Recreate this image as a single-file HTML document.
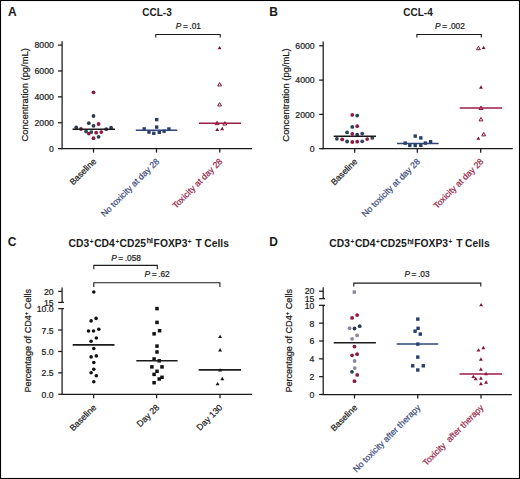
<!DOCTYPE html>
<html><head><meta charset="utf-8"><style>
html,body{margin:0;padding:0;background:#fff;}
body{width:520px;height:479px;overflow:hidden;}
svg{display:block;font-family:"Liberation Sans",sans-serif;}
</style></head><body>
<svg width="520" height="479" viewBox="0 0 520 479">
<rect x="0" y="0" width="520" height="479" fill="#fff"/>
<rect x="0.5" y="0.5" width="519" height="478" fill="none" stroke="#000" stroke-width="1.1"/>
<text x="8" y="16.3" font-size="12" text-anchor="start" font-weight="bold" fill="#1a1a1a" >A</text>
<text x="157" y="16.0" font-size="10" text-anchor="middle" font-weight="bold" fill="#1a1a1a" >CCL-3</text>
<text x="175.8" y="29.3" font-size="8.3" text-anchor="start" font-weight="normal" fill="#1a1a1a" stroke="#1a1a1a" stroke-width="0.22" word-spacing="-0.7"><tspan font-style="italic">P</tspan> = .01</text>
<path d="M155.8,37.6 V34.5 H220.2 V37.6" fill="none" stroke="#1a1a1a" stroke-width="1.1"/>
<line x1="62.1" y1="41.2" x2="62.1" y2="149.15" stroke="#1a1a1a" stroke-width="1.25"/>
<line x1="61.550000000000004" y1="148.6" x2="252" y2="148.6" stroke="#1a1a1a" stroke-width="1.25"/>
<line x1="58" y1="148.6" x2="62.1" y2="148.6" stroke="#1a1a1a" stroke-width="1.25"/>
<text x="53.8" y="151.9" font-size="8.7" text-anchor="end" font-weight="normal" fill="#1a1a1a" stroke="#1a1a1a" stroke-width="0.22" >0</text>
<line x1="58" y1="122.725" x2="62.1" y2="122.725" stroke="#1a1a1a" stroke-width="1.25"/>
<text x="53.8" y="126.02499999999999" font-size="8.7" text-anchor="end" font-weight="normal" fill="#1a1a1a" stroke="#1a1a1a" stroke-width="0.22" >2000</text>
<line x1="58" y1="96.85" x2="62.1" y2="96.85" stroke="#1a1a1a" stroke-width="1.25"/>
<text x="53.8" y="100.14999999999999" font-size="8.7" text-anchor="end" font-weight="normal" fill="#1a1a1a" stroke="#1a1a1a" stroke-width="0.22" >4000</text>
<line x1="58" y1="70.975" x2="62.1" y2="70.975" stroke="#1a1a1a" stroke-width="1.25"/>
<text x="53.8" y="74.27499999999999" font-size="8.7" text-anchor="end" font-weight="normal" fill="#1a1a1a" stroke="#1a1a1a" stroke-width="0.22" >6000</text>
<line x1="58" y1="45.099999999999994" x2="62.1" y2="45.099999999999994" stroke="#1a1a1a" stroke-width="1.25"/>
<text x="53.8" y="48.39999999999999" font-size="8.7" text-anchor="end" font-weight="normal" fill="#1a1a1a" stroke="#1a1a1a" stroke-width="0.22" >8000</text>
<line x1="93.5" y1="148.6" x2="93.5" y2="152.6" stroke="#1a1a1a" stroke-width="1.25"/>
<line x1="156.5" y1="148.6" x2="156.5" y2="152.6" stroke="#1a1a1a" stroke-width="1.25"/>
<line x1="219.8" y1="148.6" x2="219.8" y2="152.6" stroke="#1a1a1a" stroke-width="1.25"/>
<text transform="translate(27.9,94.8) rotate(-90)" font-size="9.4" text-anchor="middle" fill="#1a1a1a" stroke="#1a1a1a" stroke-width="0.22">Concentration (pg/mL)</text>
<text transform="translate(96.8,162.0) rotate(-45)" font-size="8.7" text-anchor="end" fill="#1a1a1a" stroke="#1a1a1a" stroke-width="0.22" xml:space="preserve">Baseline</text>
<text transform="translate(159.8,162.0) rotate(-45)" font-size="8.7" text-anchor="end" fill="#3c4a7c" stroke="#3c4a7c" stroke-width="0.22" xml:space="preserve">No toxicity at day 28</text>
<text transform="translate(223.0,162.0) rotate(-45)" font-size="8.7" text-anchor="end" fill="#962448" stroke="#962448" stroke-width="0.22" xml:space="preserve">Toxicity at day 28</text>
<circle cx="93.5" cy="92.3" r="1.9" fill="#8f1a41"/>
<circle cx="93.5" cy="116" r="1.9" fill="#2b3a50"/>
<circle cx="88.8" cy="123.2" r="1.9" fill="#2b3a50"/>
<circle cx="98.6" cy="124" r="1.9" fill="#8f1a41"/>
<circle cx="93.5" cy="125.8" r="1.9" fill="#2b3a50"/>
<circle cx="76.2" cy="127.4" r="1.9" fill="#2b3a50"/>
<circle cx="111.1" cy="127.7" r="1.9" fill="#2b3a50"/>
<circle cx="81" cy="129" r="1.9" fill="#8f1a41"/>
<circle cx="106.2" cy="129.2" r="1.9" fill="#2b3a50"/>
<circle cx="86.1" cy="131.4" r="1.9" fill="#25454f"/>
<circle cx="91.3" cy="132.1" r="1.9" fill="#25454f"/>
<circle cx="88.8" cy="133.6" r="1.9" fill="#8f1a41"/>
<circle cx="96.2" cy="132.7" r="1.9" fill="#8f1a41"/>
<circle cx="101.3" cy="132.1" r="1.9" fill="#8f1a41"/>
<circle cx="98.6" cy="136.8" r="1.9" fill="#25454f"/>
<circle cx="93.5" cy="138.2" r="1.9" fill="#8f1a41"/>
<line x1="72.5" y1="129.2" x2="115" y2="129.2" stroke="#1a1a1a" stroke-width="1.6"/>
<rect x="155.00" y="117.90" width="3.4" height="3.4" fill="#263d6a"/>
<rect x="155.00" y="125.40" width="3.4" height="3.4" fill="#263d6a"/>
<rect x="142.50" y="127.20" width="3.4" height="3.4" fill="#263d6a"/>
<rect x="147.30" y="130.40" width="3.4" height="3.4" fill="#263d6a"/>
<rect x="152.10" y="131.60" width="3.4" height="3.4" fill="#263d6a"/>
<rect x="157.60" y="130.60" width="3.4" height="3.4" fill="#263d6a"/>
<rect x="162.40" y="129.50" width="3.4" height="3.4" fill="#263d6a"/>
<rect x="167.20" y="127.30" width="3.4" height="3.4" fill="#263d6a"/>
<line x1="135.8" y1="130.2" x2="177.3" y2="130.2" stroke="#2f4675" stroke-width="1.5"/>
<polygon points="219.60,45.96 221.55,49.36 217.65,49.36" fill="#7f1437"/>
<polygon points="219.60,82.56 221.55,85.96 217.65,85.96" fill="#fff" stroke="#7f1437" stroke-width="1.0"/>
<polygon points="219.60,102.56 221.55,105.96 217.65,105.96" fill="#fff" stroke="#7f1437" stroke-width="1.0"/>
<polygon points="217.10,121.26 219.05,124.66 215.15,124.66" fill="#fff" stroke="#7f1437" stroke-width="1.0"/>
<polygon points="224.80,121.66 226.75,125.06 222.85,125.06" fill="#fff" stroke="#7f1437" stroke-width="1.0"/>
<polygon points="217.20,127.66 219.15,131.06 215.25,131.06" fill="#7f1437"/>
<polygon points="222.20,126.86 224.15,130.26 220.25,130.26" fill="#7f1437"/>
<line x1="199" y1="123.3" x2="241" y2="123.3" stroke="#9e1c44" stroke-width="1.5"/>
<text x="269.3" y="16.3" font-size="12" text-anchor="start" font-weight="bold" fill="#1a1a1a" >B</text>
<text x="418" y="16.0" font-size="10" text-anchor="middle" font-weight="bold" fill="#1a1a1a" >CCL-4</text>
<text x="435.09999999999997" y="29.3" font-size="8.3" text-anchor="start" font-weight="normal" fill="#1a1a1a" stroke="#1a1a1a" stroke-width="0.22" word-spacing="-0.7"><tspan font-style="italic">P</tspan> = .002</text>
<path d="M416.9,37.6 V34.5 H481.3 V37.6" fill="none" stroke="#1a1a1a" stroke-width="1.1"/>
<line x1="323.2" y1="41.6" x2="323.2" y2="149.25" stroke="#1a1a1a" stroke-width="1.25"/>
<line x1="322.65" y1="148.7" x2="512.8" y2="148.7" stroke="#1a1a1a" stroke-width="1.25"/>
<line x1="319.2" y1="148.7" x2="323.2" y2="148.7" stroke="#1a1a1a" stroke-width="1.25"/>
<text x="314.7" y="151.89999999999998" font-size="8.7" text-anchor="end" font-weight="normal" fill="#1a1a1a" stroke="#1a1a1a" stroke-width="0.22" >0</text>
<line x1="319.2" y1="114.39999999999999" x2="323.2" y2="114.39999999999999" stroke="#1a1a1a" stroke-width="1.25"/>
<text x="314.7" y="117.6" font-size="8.7" text-anchor="end" font-weight="normal" fill="#1a1a1a" stroke="#1a1a1a" stroke-width="0.22" >2000</text>
<line x1="319.2" y1="80.1" x2="323.2" y2="80.1" stroke="#1a1a1a" stroke-width="1.25"/>
<text x="314.7" y="83.3" font-size="8.7" text-anchor="end" font-weight="normal" fill="#1a1a1a" stroke="#1a1a1a" stroke-width="0.22" >4000</text>
<line x1="319.2" y1="45.8" x2="323.2" y2="45.8" stroke="#1a1a1a" stroke-width="1.25"/>
<text x="314.7" y="49.0" font-size="8.7" text-anchor="end" font-weight="normal" fill="#1a1a1a" stroke="#1a1a1a" stroke-width="0.22" >6000</text>
<line x1="354.7" y1="148.7" x2="354.7" y2="152.7" stroke="#1a1a1a" stroke-width="1.25"/>
<line x1="417.3" y1="148.7" x2="417.3" y2="152.7" stroke="#1a1a1a" stroke-width="1.25"/>
<line x1="480.7" y1="148.7" x2="480.7" y2="152.7" stroke="#1a1a1a" stroke-width="1.25"/>
<text transform="translate(288.7,95.0) rotate(-90)" font-size="9.4" text-anchor="middle" fill="#1a1a1a" stroke="#1a1a1a" stroke-width="0.22">Concentration (pg/mL)</text>
<text transform="translate(358.0,162.1) rotate(-45)" font-size="8.7" text-anchor="end" fill="#1a1a1a" stroke="#1a1a1a" stroke-width="0.22" xml:space="preserve">Baseline</text>
<text transform="translate(420.6,162.1) rotate(-45)" font-size="8.7" text-anchor="end" fill="#3c4a7c" stroke="#3c4a7c" stroke-width="0.22" xml:space="preserve">No toxicity at day 28</text>
<text transform="translate(484.0,162.1) rotate(-45)" font-size="8.7" text-anchor="end" fill="#962448" stroke="#962448" stroke-width="0.22" xml:space="preserve">Toxicity at day 28</text>
<circle cx="352.3" cy="114.9" r="1.9" fill="#8f1a41"/>
<circle cx="357.2" cy="115.6" r="1.9" fill="#25454f"/>
<circle cx="352.3" cy="126.9" r="1.9" fill="#25454f"/>
<circle cx="357.2" cy="126.2" r="1.9" fill="#8f1a41"/>
<circle cx="347.1" cy="132.4" r="1.9" fill="#25454f"/>
<circle cx="352.3" cy="133.8" r="1.9" fill="#8f1a41"/>
<circle cx="357.2" cy="134.6" r="1.9" fill="#2b3a50"/>
<circle cx="362.2" cy="133.6" r="1.9" fill="#34406a"/>
<circle cx="336.9" cy="138.8" r="1.9" fill="#25454f"/>
<circle cx="342.2" cy="139.4" r="1.9" fill="#8f1a41"/>
<circle cx="347.1" cy="141.5" r="1.9" fill="#25454f"/>
<circle cx="352.3" cy="142" r="1.9" fill="#8f1a41"/>
<circle cx="357.2" cy="141.7" r="1.9" fill="#8f1a41"/>
<circle cx="362.2" cy="141.3" r="1.9" fill="#34406a"/>
<circle cx="367.2" cy="139.1" r="1.9" fill="#8f1a41"/>
<circle cx="372.3" cy="137.9" r="1.9" fill="#3a404c"/>
<line x1="333.7" y1="136.3" x2="376" y2="136.3" stroke="#1a1a1a" stroke-width="1.6"/>
<rect x="413.50" y="134.40" width="3.4" height="3.4" fill="#263d6a"/>
<rect x="419.10" y="136.20" width="3.4" height="3.4" fill="#263d6a"/>
<rect x="403.50" y="141.40" width="3.4" height="3.4" fill="#263d6a"/>
<rect x="408.10" y="143.70" width="3.4" height="3.4" fill="#263d6a"/>
<rect x="413.50" y="143.80" width="3.4" height="3.4" fill="#263d6a"/>
<rect x="419.10" y="143.70" width="3.4" height="3.4" fill="#263d6a"/>
<rect x="423.70" y="141.40" width="3.4" height="3.4" fill="#263d6a"/>
<rect x="428.90" y="140.00" width="3.4" height="3.4" fill="#263d6a"/>
<line x1="397.1" y1="143.6" x2="438.6" y2="143.6" stroke="#2f4675" stroke-width="1.5"/>
<polygon points="478.40,46.36 480.35,49.76 476.45,49.76" fill="#fff" stroke="#7f1437" stroke-width="1.0"/>
<polygon points="483.60,45.66 485.55,49.06 481.65,49.06" fill="#7f1437"/>
<polygon points="481.00,85.26 482.95,88.66 479.05,88.66" fill="#7f1437"/>
<polygon points="481.00,106.06 482.95,109.46 479.05,109.46" fill="#fff" stroke="#7f1437" stroke-width="1.0"/>
<polygon points="481.00,117.46 482.95,120.86 479.05,120.86" fill="#fff" stroke="#7f1437" stroke-width="1.0"/>
<polygon points="483.70,132.46 485.65,135.86 481.75,135.86" fill="#fff" stroke="#7f1437" stroke-width="1.0"/>
<polygon points="478.40,136.46 480.35,139.86 476.45,139.86" fill="#7f1437"/>
<line x1="459.7" y1="108.1" x2="502.1" y2="108.1" stroke="#9e1c44" stroke-width="1.5"/>
<text x="7.7" y="246.3" font-size="12" text-anchor="start" font-weight="bold" fill="#1a1a1a" >C</text>
<text font-weight="bold" fill="#1a1a1a"><tspan x="68.60" y="246.80" font-size="10.3">CD3</tspan><tspan x="89.80" y="244.10" font-size="6.4">+</tspan><tspan x="94.20" y="246.80" font-size="10.3">CD4</tspan><tspan x="115.40" y="244.10" font-size="6.4">+</tspan><tspan x="119.60" y="246.80" font-size="10.3">CD25</tspan><tspan x="146.70" y="243.30" font-size="7.9" font-weight="normal" stroke="#1a1a1a" stroke-width="0.35">hi</tspan><tspan x="153.60" y="246.80" font-size="10.3">FOXP3</tspan><tspan x="187.80" y="244.10" font-size="6.4">+</tspan><tspan x="195.60" y="246.80" font-size="10.3">T</tspan><tspan x="204.30" y="246.80" font-size="10.3">Cells</tspan></text>
<text x="111.2" y="260.5" font-size="8.3" text-anchor="start" font-weight="normal" fill="#1a1a1a" stroke="#1a1a1a" stroke-width="0.22" word-spacing="-0.7"><tspan font-style="italic">P</tspan> = .058</text>
<path d="M93.8,269.2 V265.4 H157.3 V269.2" fill="none" stroke="#1a1a1a" stroke-width="1.1"/>
<text x="144.6" y="277.4" font-size="8.3" text-anchor="start" font-weight="normal" fill="#1a1a1a" stroke="#1a1a1a" stroke-width="0.22" word-spacing="-0.7"><tspan font-style="italic">P</tspan> = .62</text>
<path d="M93.8,286.9 V282.8 H219.9 V286.9" fill="none" stroke="#1a1a1a" stroke-width="1.1"/>
<line x1="62.1" y1="287.4" x2="62.1" y2="302.4" stroke="#1a1a1a" stroke-width="1.25"/>
<line x1="62.1" y1="308.6" x2="62.1" y2="394.85" stroke="#1a1a1a" stroke-width="1.25"/>
<line x1="61.550000000000004" y1="394.3" x2="252" y2="394.3" stroke="#1a1a1a" stroke-width="1.25"/>
<line x1="58.2" y1="291.4" x2="62.1" y2="291.4" stroke="#1a1a1a" stroke-width="1.25"/>
<line x1="58.2" y1="302.4" x2="63.9" y2="302.4" stroke="#1a1a1a" stroke-width="1.25"/>
<line x1="58.2" y1="308.6" x2="63.9" y2="308.6" stroke="#1a1a1a" stroke-width="1.25"/>
<text x="53.6" y="294.79999999999995" font-size="8.7" text-anchor="end" font-weight="normal" fill="#1a1a1a" stroke="#1a1a1a" stroke-width="0.22" >20</text>
<text x="53.6" y="305.79999999999995" font-size="8.7" text-anchor="end" font-weight="normal" fill="#1a1a1a" stroke="#1a1a1a" stroke-width="0.22" >15</text>
<text x="53.7" y="312.20000000000005" font-size="8.7" text-anchor="end" font-weight="normal" fill="#1a1a1a" stroke="#1a1a1a" stroke-width="0.22" >10.0</text>
<line x1="58.2" y1="330.02500000000003" x2="62.1" y2="330.02500000000003" stroke="#1a1a1a" stroke-width="1.25"/>
<text x="53.7" y="333.62500000000006" font-size="8.7" text-anchor="end" font-weight="normal" fill="#1a1a1a" stroke="#1a1a1a" stroke-width="0.22" >7.5</text>
<line x1="58.2" y1="351.45000000000005" x2="62.1" y2="351.45000000000005" stroke="#1a1a1a" stroke-width="1.25"/>
<text x="53.7" y="355.05000000000007" font-size="8.7" text-anchor="end" font-weight="normal" fill="#1a1a1a" stroke="#1a1a1a" stroke-width="0.22" >5.0</text>
<line x1="58.2" y1="372.875" x2="62.1" y2="372.875" stroke="#1a1a1a" stroke-width="1.25"/>
<text x="53.7" y="376.475" font-size="8.7" text-anchor="end" font-weight="normal" fill="#1a1a1a" stroke="#1a1a1a" stroke-width="0.22" >2.5</text>
<line x1="58.2" y1="394.3" x2="62.1" y2="394.3" stroke="#1a1a1a" stroke-width="1.25"/>
<text x="53.7" y="397.90000000000003" font-size="8.7" text-anchor="end" font-weight="normal" fill="#1a1a1a" stroke="#1a1a1a" stroke-width="0.22" >0.0</text>
<line x1="93.6" y1="394.3" x2="93.6" y2="398.3" stroke="#1a1a1a" stroke-width="1.25"/>
<line x1="156.6" y1="394.3" x2="156.6" y2="398.3" stroke="#1a1a1a" stroke-width="1.25"/>
<line x1="220.0" y1="394.3" x2="220.0" y2="398.3" stroke="#1a1a1a" stroke-width="1.25"/>
<text transform="translate(31.0,340.7) rotate(-90)" font-size="9.1" text-anchor="middle" fill="#1a1a1a" stroke="#1a1a1a" stroke-width="0.22">Percentage of CD4<tspan font-size="6" dy="-3">+</tspan><tspan dy="3"> Cells</tspan></text>
<text transform="translate(96.8,408.0) rotate(-45)" font-size="8.7" text-anchor="end" fill="#1a1a1a" stroke="#1a1a1a" stroke-width="0.22" xml:space="preserve">Baseline</text>
<text transform="translate(159.8,408.0) rotate(-45)" font-size="8.7" text-anchor="end" fill="#1a1a1a" stroke="#1a1a1a" stroke-width="0.22" xml:space="preserve">Day 28</text>
<text transform="translate(223.0,408.0) rotate(-45)" font-size="8.7" text-anchor="end" fill="#1a1a1a" stroke="#1a1a1a" stroke-width="0.22" xml:space="preserve">Day 130</text>
<circle cx="93.8" cy="292" r="1.8" fill="#111"/>
<circle cx="96.1" cy="318.4" r="1.8" fill="#111"/>
<circle cx="91.1" cy="320.9" r="1.8" fill="#111"/>
<circle cx="98.8" cy="329.2" r="1.8" fill="#111"/>
<circle cx="88.5" cy="331" r="1.8" fill="#111"/>
<circle cx="93.5" cy="331" r="1.8" fill="#111"/>
<circle cx="96.3" cy="338" r="1.8" fill="#111"/>
<circle cx="91.1" cy="341.3" r="1.8" fill="#111"/>
<circle cx="93.8" cy="348.5" r="1.8" fill="#111"/>
<circle cx="91.1" cy="356.9" r="1.8" fill="#111"/>
<circle cx="96.3" cy="355.9" r="1.8" fill="#111"/>
<circle cx="93.8" cy="362.5" r="1.8" fill="#111"/>
<circle cx="93.8" cy="369.2" r="1.8" fill="#111"/>
<circle cx="91.1" cy="372.8" r="1.8" fill="#111"/>
<circle cx="96.3" cy="375.7" r="1.8" fill="#111"/>
<circle cx="93.8" cy="381.7" r="1.8" fill="#111"/>
<line x1="72.7" y1="344.9" x2="114.5" y2="344.9" stroke="#1a1a1a" stroke-width="1.6"/>
<rect x="155.25" y="306.85" width="3.5" height="3.5" fill="#111"/>
<rect x="155.25" y="320.65" width="3.5" height="3.5" fill="#111"/>
<rect x="157.85" y="328.95" width="3.5" height="3.5" fill="#111"/>
<rect x="152.35" y="332.05" width="3.5" height="3.5" fill="#111"/>
<rect x="155.25" y="344.35" width="3.5" height="3.5" fill="#111"/>
<rect x="155.25" y="350.25" width="3.5" height="3.5" fill="#111"/>
<rect x="152.35" y="357.25" width="3.5" height="3.5" fill="#111"/>
<rect x="157.45" y="359.05" width="3.5" height="3.5" fill="#111"/>
<rect x="150.15" y="365.15" width="3.5" height="3.5" fill="#111"/>
<rect x="160.25" y="365.15" width="3.5" height="3.5" fill="#111"/>
<rect x="155.25" y="369.55" width="3.5" height="3.5" fill="#111"/>
<rect x="152.35" y="372.65" width="3.5" height="3.5" fill="#111"/>
<rect x="160.25" y="375.55" width="3.5" height="3.5" fill="#111"/>
<rect x="157.45" y="377.25" width="3.5" height="3.5" fill="#111"/>
<rect x="152.35" y="380.95" width="3.5" height="3.5" fill="#111"/>
<line x1="136.3" y1="360.7" x2="177.6" y2="360.7" stroke="#1a1a1a" stroke-width="1.6"/>
<polygon points="220.10,334.66 222.05,338.06 218.15,338.06" fill="#111"/>
<polygon points="220.10,348.06 222.05,351.46 218.15,351.46" fill="#111"/>
<polygon points="220.10,368.16 222.05,371.56 218.15,371.56" fill="#111"/>
<polygon points="222.30,376.86 224.25,380.26 220.35,380.26" fill="#111"/>
<polygon points="217.60,381.96 219.55,385.36 215.65,385.36" fill="#111"/>
<line x1="198.7" y1="369.9" x2="241" y2="369.9" stroke="#1a1a1a" stroke-width="1.6"/>
<text x="269.3" y="246.3" font-size="12" text-anchor="start" font-weight="bold" fill="#1a1a1a" >D</text>
<text font-weight="bold" fill="#1a1a1a"><tspan x="329.30" y="247.00" font-size="10.3">CD3</tspan><tspan x="350.50" y="244.30" font-size="6.4">+</tspan><tspan x="354.90" y="247.00" font-size="10.3">CD4</tspan><tspan x="376.10" y="244.30" font-size="6.4">+</tspan><tspan x="380.30" y="247.00" font-size="10.3">CD25</tspan><tspan x="407.40" y="243.50" font-size="7.9" font-weight="normal" stroke="#1a1a1a" stroke-width="0.35">hi</tspan><tspan x="414.30" y="247.00" font-size="10.3">FOXP3</tspan><tspan x="448.50" y="244.30" font-size="6.4">+</tspan><tspan x="456.30" y="247.00" font-size="10.3">T</tspan><tspan x="465.00" y="247.00" font-size="10.3">Cells</tspan></text>
<text x="404.4" y="276.7" font-size="8.3" text-anchor="start" font-weight="normal" fill="#1a1a1a" stroke="#1a1a1a" stroke-width="0.22" word-spacing="-0.7"><tspan font-style="italic">P</tspan> = .03</text>
<path d="M353.8,286.6 V283.1 H480.8 V286.6" fill="none" stroke="#1a1a1a" stroke-width="1.1"/>
<line x1="323.2" y1="287.3" x2="323.2" y2="298.7" stroke="#1a1a1a" stroke-width="1.25"/>
<line x1="323.2" y1="305.3" x2="323.2" y2="395.05" stroke="#1a1a1a" stroke-width="1.25"/>
<line x1="322.65" y1="394.5" x2="511.8" y2="394.5" stroke="#1a1a1a" stroke-width="1.25"/>
<line x1="319.1" y1="291.2" x2="323.2" y2="291.2" stroke="#1a1a1a" stroke-width="1.25"/>
<line x1="319.1" y1="298.7" x2="325" y2="298.7" stroke="#1a1a1a" stroke-width="1.25"/>
<line x1="319.1" y1="305.3" x2="325" y2="305.3" stroke="#1a1a1a" stroke-width="1.25"/>
<text x="314.4" y="294.4" font-size="8.7" text-anchor="end" font-weight="normal" fill="#1a1a1a" stroke="#1a1a1a" stroke-width="0.22" >20</text>
<text x="314.4" y="302.0" font-size="8.7" text-anchor="end" font-weight="normal" fill="#1a1a1a" stroke="#1a1a1a" stroke-width="0.22" >15</text>
<text x="314.4" y="308.7" font-size="8.7" text-anchor="end" font-weight="normal" fill="#1a1a1a" stroke="#1a1a1a" stroke-width="0.22" >10</text>
<line x1="319.1" y1="323.14" x2="323.2" y2="323.14" stroke="#1a1a1a" stroke-width="1.25"/>
<text x="314.4" y="326.53999999999996" font-size="8.7" text-anchor="end" font-weight="normal" fill="#1a1a1a" stroke="#1a1a1a" stroke-width="0.22" >8</text>
<line x1="319.1" y1="340.98" x2="323.2" y2="340.98" stroke="#1a1a1a" stroke-width="1.25"/>
<text x="314.4" y="344.38" font-size="8.7" text-anchor="end" font-weight="normal" fill="#1a1a1a" stroke="#1a1a1a" stroke-width="0.22" >6</text>
<line x1="319.1" y1="358.82" x2="323.2" y2="358.82" stroke="#1a1a1a" stroke-width="1.25"/>
<text x="314.4" y="362.21999999999997" font-size="8.7" text-anchor="end" font-weight="normal" fill="#1a1a1a" stroke="#1a1a1a" stroke-width="0.22" >4</text>
<line x1="319.1" y1="376.66" x2="323.2" y2="376.66" stroke="#1a1a1a" stroke-width="1.25"/>
<text x="314.4" y="380.06" font-size="8.7" text-anchor="end" font-weight="normal" fill="#1a1a1a" stroke="#1a1a1a" stroke-width="0.22" >2</text>
<line x1="319.1" y1="394.5" x2="323.2" y2="394.5" stroke="#1a1a1a" stroke-width="1.25"/>
<text x="314.4" y="397.9" font-size="8.7" text-anchor="end" font-weight="normal" fill="#1a1a1a" stroke="#1a1a1a" stroke-width="0.22" >0</text>
<line x1="354.5" y1="394.5" x2="354.5" y2="398.5" stroke="#1a1a1a" stroke-width="1.25"/>
<line x1="417.8" y1="394.5" x2="417.8" y2="398.5" stroke="#1a1a1a" stroke-width="1.25"/>
<line x1="481.0" y1="394.5" x2="481.0" y2="398.5" stroke="#1a1a1a" stroke-width="1.25"/>
<text transform="translate(292.3,340.8) rotate(-90)" font-size="9.1" text-anchor="middle" fill="#1a1a1a" stroke="#1a1a1a" stroke-width="0.22">Percentage of CD4<tspan font-size="6" dy="-3">+</tspan><tspan dy="3"> Cells</tspan></text>
<text transform="translate(357.8,408.2) rotate(-45)" font-size="8.7" text-anchor="end" fill="#1a1a1a" stroke="#1a1a1a" stroke-width="0.22" xml:space="preserve">Baseline</text>
<text transform="translate(421.0,408.2) rotate(-45)" font-size="8.7" text-anchor="end" fill="#3c4a7c" stroke="#3c4a7c" stroke-width="0.22" xml:space="preserve">No toxicity after therapy</text>
<text transform="translate(484.2,408.2) rotate(-45)" font-size="8.7" text-anchor="end" fill="#962448" stroke="#962448" stroke-width="0.22" xml:space="preserve">Toxicity  after therapy</text>
<rect x="352.60" y="290.40" width="3.4" height="3.4" fill="#8c879e"/>
<circle cx="357.1" cy="315.1" r="1.9" fill="#8f1a41"/>
<circle cx="352.1" cy="317.9" r="1.9" fill="#8f1a41"/>
<circle cx="359.7" cy="326.2" r="1.9" fill="#2b3a50"/>
<circle cx="349.6" cy="328.2" r="1.9" fill="#8c879e"/>
<circle cx="354.5" cy="328.5" r="1.9" fill="#2b3a50"/>
<circle cx="357.1" cy="335.4" r="1.9" fill="#8c879e"/>
<circle cx="352.1" cy="338.8" r="1.9" fill="#8c879e"/>
<circle cx="354.5" cy="346.6" r="1.9" fill="#8f1a41"/>
<circle cx="357.1" cy="354.2" r="1.9" fill="#8f1a41"/>
<circle cx="352.1" cy="355.3" r="1.9" fill="#8f1a41"/>
<circle cx="354.6" cy="361" r="1.9" fill="#8c879e"/>
<circle cx="354.8" cy="368.1" r="1.9" fill="#8c879e"/>
<circle cx="352" cy="371.8" r="1.9" fill="#25454f"/>
<circle cx="357.2" cy="374.9" r="1.9" fill="#8f1a41"/>
<circle cx="354.5" cy="381.2" r="1.9" fill="#8f1a41"/>
<line x1="333.7" y1="342.7" x2="375.9" y2="342.7" stroke="#1a1a1a" stroke-width="1.6"/>
<rect x="416.10" y="317.40" width="3.4" height="3.4" fill="#263d6a"/>
<rect x="416.40" y="326.60" width="3.4" height="3.4" fill="#263d6a"/>
<rect x="413.40" y="329.50" width="3.4" height="3.4" fill="#263d6a"/>
<rect x="418.60" y="332.40" width="3.4" height="3.4" fill="#263d6a"/>
<rect x="416.10" y="342.40" width="3.4" height="3.4" fill="#263d6a"/>
<rect x="416.10" y="355.40" width="3.4" height="3.4" fill="#263d6a"/>
<rect x="411.00" y="364.10" width="3.4" height="3.4" fill="#263d6a"/>
<rect x="421.60" y="364.10" width="3.4" height="3.4" fill="#263d6a"/>
<rect x="416.10" y="368.30" width="3.4" height="3.4" fill="#263d6a"/>
<line x1="396.6" y1="344.1" x2="438.2" y2="344.1" stroke="#2f4675" stroke-width="1.5"/>
<polygon points="481.10,302.96 483.05,306.36 479.15,306.36" fill="#7f1437"/>
<polygon points="483.30,345.76 485.25,349.16 481.35,349.16" fill="#7f1437"/>
<polygon points="478.50,348.16 480.45,351.56 476.55,351.56" fill="#7f1437"/>
<polygon points="480.90,357.26 482.85,360.66 478.95,360.66" fill="#7f1437"/>
<polygon points="480.90,367.36 482.85,370.76 478.95,370.76" fill="#7f1437"/>
<polygon points="486.10,371.86 488.05,375.26 484.15,375.26" fill="#7f1437"/>
<polygon points="473.30,374.66 475.25,378.06 471.35,378.06" fill="#7f1437"/>
<polygon points="475.70,376.76 477.65,380.16 473.75,380.16" fill="#7f1437"/>
<polygon points="480.90,376.36 482.85,379.76 478.95,379.76" fill="#7f1437"/>
<polygon points="480.90,381.76 482.85,385.16 478.95,385.16" fill="#7f1437"/>
<polygon points="486.10,380.26 488.05,383.66 484.15,383.66" fill="#7f1437"/>
<line x1="459.6" y1="373.9" x2="502" y2="373.9" stroke="#9e1c44" stroke-width="1.5"/>
</svg>
</body></html>
